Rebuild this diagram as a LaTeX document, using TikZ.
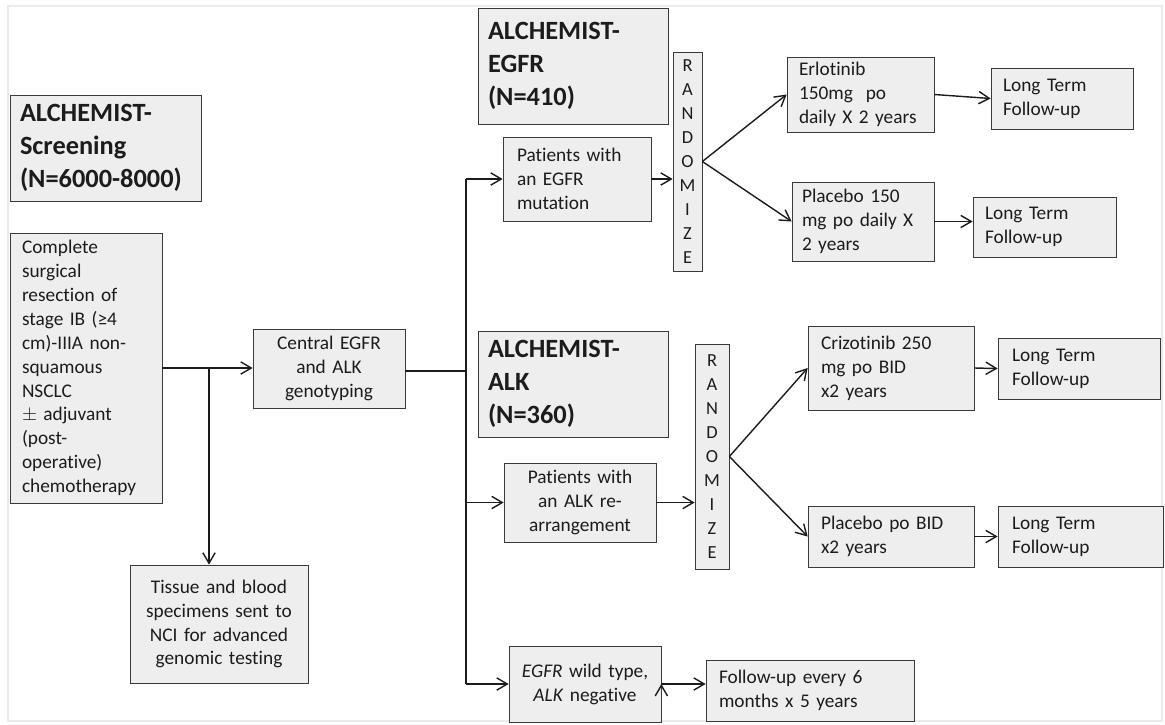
\documentclass[tikz,border=0pt]{standalone}
\usepackage{fontspec}
\setmainfont{Carlito}[RawFeature={-liga}]
\usetikzlibrary{arrows.meta}
\usetikzlibrary{positioning}
\usetikzlibrary{calc}

\newlength{\pxu}
\setlength{\pxu}{0.02cm}

\definecolor{boxfill}{HTML}{EEEEEE}
\definecolor{boxline}{HTML}{3A3A3A}
\definecolor{ink}{HTML}{1C1C1C}

\tikzset{
  box/.style={draw=boxline, fill=boxfill, text=ink, inner ysep=0pt,
    font=\fontsize{11}{13.6}\selectfont},
  title/.style={box, align=left, font=\fontsize{15}{18.8}\selectfont\bfseries},
  randbox/.style={box, align=center, font=\fontsize{10.5}{13.6}\selectfont},
  % width, height, side padding (in pixels)
  sized/.style n args={3}{minimum width=#1*\pxu, minimum height=#2*\pxu,
    inner xsep=#3*\pxu,
    /utils/exec={\pgfmathsetlengthmacro\boxtw{(#1-2*#3)*\pxu}},
    text width=\boxtw},
  link/.style={draw=ink, line width=0.8pt},
}

\begin{document}
\begin{tikzpicture}[x=\pxu, y=-\pxu, >={Straight Barb[length=6pt,width=7pt]}]
  \useasboundingbox (0,0) rectangle (1165,724);
  \draw[black!8, line width=0.6pt] (8,6) rectangle (1162,721);

  % screening
  \node[title, sized={191}{106}{10}] (screen) at (105.5,148) {ALCHEMIST-\\Screening\\(N=6000-8000)};
  \node[box, sized={152}{270}{12}, align=left] (resect) at (86,368)
    {Complete\\surgical\\resection of\\stage IB (≥4\\cm)-IIIA non-\\squamous\\NSCLC\\$\pm$ adjuvant\\(post-\\operative)\\chemotherapy};
  \node[box, sized={152}{79}{8}, align=center] (central) at (329,368.5) {Central EGFR\\and ALK\\genotyping};
  \node[box, sized={178}{118}{6}, align=center] (tissue) at (219,624)
    {Tissue and blood\\specimens sent to\\NCI for advanced\\genomic testing};

  % EGFR arm
  \node[title, sized={190}{116}{10}] (egfrtitle) at (573,66) {ALCHEMIST-\\EGFR\\(N=410)};
  \node[box, sized={148}{84}{14}, align=left] (pegfr) at (577,179) {Patients with\\an EGFR\\mutation};
  \node[randbox, sized={29}{219}{0}] (randA) at (687.5,161.5) {R\\A\\N\\D\\O\\M\\I\\Z\\E};
  \node[box, sized={147}{75}{12}, align=left] (erlo) at (860.5,94.5) {Erlotinib\\150mg~ po\\daily X 2 years};
  \node[box, sized={142}{79}{10}, align=left] (placA) at (863,221.5) {Placebo 150\\mg po daily X\\2 years};
  \node[box, sized={142}{61}{12}, align=left] (ltfuA) at (1062,98.5) {Long Term\\Follow-up};
  \node[box, sized={143}{60}{12}, align=left] (ltfuB) at (1044.5,227) {Long Term\\Follow-up};

  % ALK arm
  \node[title, sized={190}{106}{10}] (alktitle) at (573,384) {ALCHEMIST-\\ALK\\(N=360)};
  \node[box, sized={152}{79}{6}, align=center] (palk) at (580,502.5) {Patients with\\an ALK re-\\arrangement};
  \node[randbox, sized={34}{225}{0}] (randB) at (712,456.5) {R\\A\\N\\D\\O\\M\\I\\Z\\E};
  \node[box, sized={166}{84}{13}, align=left] (crizo) at (891,368) {Crizotinib 250\\mg po BID\\x2 years};
  \node[box, sized={166}{61}{13}, align=left] (placB) at (891,536.5) {Placebo po BID\\x2 years};
  \node[box, sized={162}{61}{14}, align=left] (ltfuC) at (1079,368.5) {Long Term\\Follow-up};
  \node[box, sized={165}{61}{14}, align=left] (ltfuD) at (1080.5,536.5) {Long Term\\Follow-up};

  % wild type
  \node[box, sized={152}{76}{6}, align=center] (wild) at (585,684) {\textit{EGFR} wild type,\\\textit{ALK} negative};
  \node[box, sized={208}{61}{13}, align=left] (fusix) at (810,690.5) {Follow-up every 6\\months x 5 years};

  \coordinate (branch) at (209,368);
  \coordinate (trunk) at (466,371);

  \draw[link,->] (resect.east) -- (resect.east -| central.west);
  \draw[link,->] (branch) -- (branch |- tissue.north);
  \draw[link] (central.east |- trunk) -- (trunk);
  \draw[link] (trunk |- pegfr.west) -- (trunk |- wild.west);
  \draw[link,->] (trunk |- pegfr.west) -- (pegfr.west);
  \draw[link,->] (trunk |- palk.west) -- (palk.west);
  \draw[link,->] (trunk |- wild.west) -- (wild.west);

  \path[link,->]
    (pegfr.east) edge (pegfr.east -| randA.west)
    (randA.east) edge (erlo.west)
    (randA.east) edge (placA.west)
    (erlo.east)  edge (ltfuA.west)
    (placA.east) edge (placA.east -| ltfuB.west)
    (palk.east)  edge (palk.east -| randB.west)
    (randB.east) edge (crizo.west)
    (randB.east) edge (placB.west)
    (crizo.east) edge (ltfuC.west)
    (placB.east) edge (ltfuD.west)
    (wild.east)  edge (wild.east -| fusix.west);
\end{tikzpicture}
\end{document}
